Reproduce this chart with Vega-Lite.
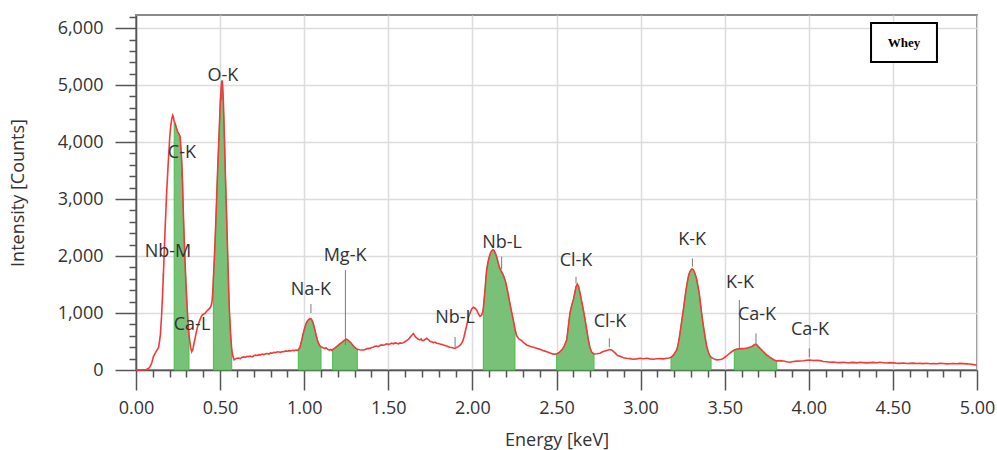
{
  "$schema": "https://vega.github.io/schema/vega-lite/v6.json",
  "width": 841,
  "height": 355,
  "autosize": "none",
  "padding": {"left": 136, "top": 15, "right": 20, "bottom": 80},
  "background": "white",
  "config": {
    "font": "Open Sans",
    "view": {"stroke": "#8a8a8a", "strokeWidth": 2}
  },
  "datasets": {
    "spectrum": [
      {"E":0.000,"I":0},{"E":0.030,"I":0},{"E":0.060,"I":5},{"E":0.080,"I":40},{"E":0.093,"I":117},{"E":0.103,"I":230},{"E":0.115,"I":300},{"E":0.125,"I":350},{"E":0.135,"I":400},{"E":0.145,"I":620},{"E":0.153,"I":1000},{"E":0.162,"I":1600},{"E":0.172,"I":2400},{"E":0.182,"I":3100},{"E":0.192,"I":3650},{"E":0.200,"I":4050},{"E":0.206,"I":4270},{"E":0.212,"I":4400},{"E":0.218,"I":4470},{"E":0.222,"I":4440},
      {"E":0.227,"I":4360,"pk":"C-K"},{"E":0.232,"I":4330,"pk":"C-K"},{"E":0.240,"I":4250,"pk":"C-K"},{"E":0.248,"I":4180,"pk":"C-K"},{"E":0.256,"I":4140,"pk":"C-K"},{"E":0.262,"I":4100,"pk":"C-K"},{"E":0.268,"I":3850,"pk":"C-K"},{"E":0.272,"I":3650,"pk":"C-K"},{"E":0.277,"I":3250,"pk":"C-K"},{"E":0.281,"I":2800,"pk":"C-K"},{"E":0.286,"I":2350,"pk":"C-K"},{"E":0.291,"I":1930,"pk":"C-K"},{"E":0.298,"I":1450,"pk":"C-K"},{"E":0.305,"I":1050,"pk":"C-K"},{"E":0.310,"I":800,"pk":"C-K"},{"E":0.315,"I":620,"pk":"C-K"},
      {"E":0.320,"I":500},{"E":0.326,"I":380},{"E":0.331,"I":320},{"E":0.338,"I":360},{"E":0.345,"I":470},{"E":0.353,"I":580},{"E":0.361,"I":700},{"E":0.370,"I":800},{"E":0.380,"I":880},{"E":0.390,"I":950},{"E":0.400,"I":980},{"E":0.410,"I":990},{"E":0.420,"I":1030},{"E":0.430,"I":1060},{"E":0.440,"I":1090},{"E":0.446,"I":1120},{"E":0.452,"I":1200},{"E":0.456,"I":1350},
      {"E":0.460,"I":1600,"pk":"O-K"},{"E":0.465,"I":1900,"pk":"O-K"},{"E":0.470,"I":2250,"pk":"O-K"},{"E":0.477,"I":2800,"pk":"O-K"},{"E":0.484,"I":3400,"pk":"O-K"},{"E":0.490,"I":3850,"pk":"O-K"},{"E":0.496,"I":4300,"pk":"O-K"},{"E":0.502,"I":4750,"pk":"O-K"},{"E":0.509,"I":5050,"pk":"O-K"},{"E":0.513,"I":5080,"pk":"O-K"},{"E":0.519,"I":4750,"pk":"O-K"},{"E":0.524,"I":4250,"pk":"O-K"},{"E":0.529,"I":3700,"pk":"O-K"},{"E":0.536,"I":2950,"pk":"O-K"},{"E":0.543,"I":2250,"pk":"O-K"},{"E":0.549,"I":1600,"pk":"O-K"},{"E":0.555,"I":1050,"pk":"O-K"},{"E":0.562,"I":650,"pk":"O-K"},{"E":0.569,"I":360,"pk":"O-K"},
      {"E":0.576,"I":240},{"E":0.583,"I":180},{"E":0.592,"I":195},{"E":0.600,"I":205},{"E":0.610,"I":210},{"E":0.620,"I":200},{"E":0.630,"I":225},{"E":0.640,"I":230},{"E":0.650,"I":220},{"E":0.660,"I":240},{"E":0.670,"I":235},{"E":0.680,"I":245},{"E":0.690,"I":230},{"E":0.700,"I":250},{"E":0.710,"I":260},{"E":0.720,"I":255},{"E":0.730,"I":270},{"E":0.740,"I":265},{"E":0.750,"I":280},{"E":0.760,"I":270},{"E":0.770,"I":285},{"E":0.780,"I":290},{"E":0.790,"I":280},{"E":0.800,"I":300},{"E":0.810,"I":295},{"E":0.820,"I":310},{"E":0.830,"I":305},{"E":0.840,"I":320},{"E":0.850,"I":315},{"E":0.860,"I":310},{"E":0.870,"I":325},{"E":0.880,"I":320},{"E":0.890,"I":335},{"E":0.900,"I":330},{"E":0.910,"I":340},{"E":0.920,"I":335},{"E":0.930,"I":345},{"E":0.940,"I":340},{"E":0.950,"I":350},{"E":0.958,"I":345},
      {"E":0.965,"I":355,"pk":"Na-K"},{"E":0.975,"I":400,"pk":"Na-K"},{"E":0.985,"I":520,"pk":"Na-K"},{"E":0.995,"I":650,"pk":"Na-K"},{"E":1.005,"I":760,"pk":"Na-K"},{"E":1.012,"I":820,"pk":"Na-K"},{"E":1.018,"I":855,"pk":"Na-K"},{"E":1.026,"I":885,"pk":"Na-K"},{"E":1.034,"I":900,"pk":"Na-K"},{"E":1.042,"I":895,"pk":"Na-K"},{"E":1.050,"I":850,"pk":"Na-K"},{"E":1.057,"I":780,"pk":"Na-K"},{"E":1.064,"I":700,"pk":"Na-K"},{"E":1.071,"I":610,"pk":"Na-K"},{"E":1.078,"I":530,"pk":"Na-K"},{"E":1.085,"I":470,"pk":"Na-K"},{"E":1.092,"I":430,"pk":"Na-K"},{"E":1.100,"I":405,"pk":"Na-K"},
      {"E":1.110,"I":395},{"E":1.118,"I":380},{"E":1.124,"I":375},{"E":1.130,"I":390},{"E":1.137,"I":370},{"E":1.144,"I":355},{"E":1.150,"I":350},{"E":1.158,"I":360},{"E":1.165,"I":345},
      {"E":1.169,"I":360,"pk":"Mg-K"},{"E":1.180,"I":380,"pk":"Mg-K"},{"E":1.193,"I":410,"pk":"Mg-K"},{"E":1.205,"I":440,"pk":"Mg-K"},{"E":1.215,"I":465,"pk":"Mg-K"},{"E":1.223,"I":480,"pk":"Mg-K"},{"E":1.232,"I":505,"pk":"Mg-K"},{"E":1.241,"I":525,"pk":"Mg-K"},{"E":1.249,"I":540,"pk":"Mg-K"},{"E":1.257,"I":530,"pk":"Mg-K"},{"E":1.265,"I":510,"pk":"Mg-K"},{"E":1.272,"I":495,"pk":"Mg-K"},{"E":1.280,"I":470,"pk":"Mg-K"},{"E":1.288,"I":440,"pk":"Mg-K"},{"E":1.296,"I":410,"pk":"Mg-K"},{"E":1.306,"I":385,"pk":"Mg-K"},{"E":1.316,"I":365,"pk":"Mg-K"},
      {"E":1.330,"I":355},{"E":1.340,"I":350},{"E":1.351,"I":352},{"E":1.362,"I":360},{"E":1.375,"I":375},{"E":1.391,"I":380},{"E":1.400,"I":395},{"E":1.410,"I":400},{"E":1.420,"I":415},{"E":1.431,"I":420},{"E":1.440,"I":410},{"E":1.450,"I":430},{"E":1.460,"I":440},{"E":1.470,"I":435},{"E":1.480,"I":445},{"E":1.490,"I":460},{"E":1.500,"I":450},{"E":1.510,"I":455},{"E":1.520,"I":470},{"E":1.530,"I":460},{"E":1.540,"I":475},{"E":1.550,"I":468},{"E":1.560,"I":460},{"E":1.570,"I":475},{"E":1.580,"I":470},{"E":1.590,"I":480},{"E":1.600,"I":500},{"E":1.610,"I":515},{"E":1.619,"I":535},{"E":1.630,"I":575},{"E":1.641,"I":615},{"E":1.649,"I":640},{"E":1.657,"I":600},{"E":1.665,"I":570},{"E":1.672,"I":555},{"E":1.679,"I":540},{"E":1.688,"I":528},{"E":1.695,"I":545},{"E":1.700,"I":520},{"E":1.708,"I":515},{"E":1.716,"I":530},{"E":1.728,"I":556},{"E":1.738,"I":535},{"E":1.748,"I":505},{"E":1.758,"I":495},{"E":1.768,"I":480},{"E":1.778,"I":490},{"E":1.788,"I":470},{"E":1.798,"I":465},{"E":1.807,"I":456},{"E":1.817,"I":450},{"E":1.827,"I":440},{"E":1.837,"I":430},{"E":1.847,"I":420},{"E":1.857,"I":410},{"E":1.867,"I":400},{"E":1.877,"I":395},{"E":1.887,"I":385},{"E":1.896,"I":380},{"E":1.905,"I":395},{"E":1.916,"I":410},{"E":1.926,"I":430},{"E":1.934,"I":460},{"E":1.942,"I":500},{"E":1.950,"I":580},{"E":1.958,"I":680},{"E":1.966,"I":780},{"E":1.976,"I":920},{"E":1.986,"I":1000},{"E":1.996,"I":1070},{"E":2.006,"I":1100},{"E":2.016,"I":1085},{"E":2.026,"I":1050},{"E":2.035,"I":990},{"E":2.045,"I":940},{"E":2.055,"I":960},{"E":2.061,"I":1020},
      {"E":2.065,"I":1080,"pk":"Nb-L"},{"E":2.070,"I":1250,"pk":"Nb-L"},{"E":2.075,"I":1400,"pk":"Nb-L"},{"E":2.080,"I":1600,"pk":"Nb-L"},{"E":2.085,"I":1760,"pk":"Nb-L"},{"E":2.092,"I":1880,"pk":"Nb-L"},{"E":2.098,"I":1960,"pk":"Nb-L"},{"E":2.106,"I":2040,"pk":"Nb-L"},{"E":2.114,"I":2090,"pk":"Nb-L"},{"E":2.121,"I":2110,"pk":"Nb-L"},{"E":2.128,"I":2100,"pk":"Nb-L"},{"E":2.136,"I":2050,"pk":"Nb-L"},{"E":2.144,"I":1990,"pk":"Nb-L"},{"E":2.152,"I":1890,"pk":"Nb-L"},{"E":2.160,"I":1810,"pk":"Nb-L"},{"E":2.167,"I":1760,"pk":"Nb-L"},{"E":2.174,"I":1720,"pk":"Nb-L"},{"E":2.184,"I":1660,"pk":"Nb-L"},{"E":2.194,"I":1580,"pk":"Nb-L"},{"E":2.201,"I":1500,"pk":"Nb-L"},{"E":2.208,"I":1400,"pk":"Nb-L"},{"E":2.215,"I":1290,"pk":"Nb-L"},{"E":2.223,"I":1170,"pk":"Nb-L"},{"E":2.233,"I":1020,"pk":"Nb-L"},{"E":2.243,"I":880,"pk":"Nb-L"},{"E":2.253,"I":720,"pk":"Nb-L"},
      {"E":2.263,"I":600},{"E":2.278,"I":540},{"E":2.293,"I":515},{"E":2.308,"I":470},{"E":2.323,"I":440},{"E":2.342,"I":415},{"E":2.362,"I":400},{"E":2.382,"I":380},{"E":2.402,"I":362},{"E":2.422,"I":340},{"E":2.442,"I":322},{"E":2.462,"I":300},{"E":2.481,"I":278},
      {"E":2.501,"I":282,"pk":"Cl-K"},{"E":2.516,"I":310,"pk":"Cl-K"},{"E":2.531,"I":350,"pk":"Cl-K"},{"E":2.546,"I":420,"pk":"Cl-K"},{"E":2.561,"I":530,"pk":"Cl-K"},{"E":2.571,"I":780,"pk":"Cl-K"},{"E":2.580,"I":1000,"pk":"Cl-K"},{"E":2.590,"I":1130,"pk":"Cl-K"},{"E":2.600,"I":1230,"pk":"Cl-K"},{"E":2.608,"I":1340,"pk":"Cl-K"},{"E":2.616,"I":1460,"pk":"Cl-K"},{"E":2.624,"I":1510,"pk":"Cl-K"},{"E":2.631,"I":1470,"pk":"Cl-K"},{"E":2.640,"I":1350,"pk":"Cl-K"},{"E":2.650,"I":1200,"pk":"Cl-K"},{"E":2.660,"I":1050,"pk":"Cl-K"},{"E":2.670,"I":880,"pk":"Cl-K"},{"E":2.680,"I":700,"pk":"Cl-K"},{"E":2.690,"I":520,"pk":"Cl-K"},{"E":2.699,"I":390,"pk":"Cl-K"},{"E":2.710,"I":310,"pk":"Cl-K"},{"E":2.723,"I":282,"pk":"Cl-K"},
      {"E":2.740,"I":285},{"E":2.759,"I":295},{"E":2.774,"I":320},{"E":2.789,"I":335},{"E":2.803,"I":345},{"E":2.813,"I":360},{"E":2.823,"I":355},{"E":2.833,"I":340},{"E":2.848,"I":300},{"E":2.863,"I":255},{"E":2.878,"I":240},{"E":2.897,"I":215},{"E":2.917,"I":205},{"E":2.937,"I":200},{"E":2.957,"I":190},{"E":2.977,"I":195},{"E":2.997,"I":205},{"E":3.017,"I":198},{"E":3.036,"I":205},{"E":3.056,"I":195},{"E":3.076,"I":190},{"E":3.096,"I":198},{"E":3.116,"I":200},{"E":3.136,"I":195},{"E":3.155,"I":205},{"E":3.170,"I":210},
      {"E":3.181,"I":222,"pk":"K-K"},{"E":3.195,"I":260,"pk":"K-K"},{"E":3.215,"I":350,"pk":"K-K"},{"E":3.225,"I":480,"pk":"K-K"},{"E":3.234,"I":640,"pk":"K-K"},{"E":3.244,"I":850,"pk":"K-K"},{"E":3.254,"I":1050,"pk":"K-K"},{"E":3.262,"I":1230,"pk":"K-K"},{"E":3.270,"I":1400,"pk":"K-K"},{"E":3.277,"I":1530,"pk":"K-K"},{"E":3.284,"I":1640,"pk":"K-K"},{"E":3.291,"I":1710,"pk":"K-K"},{"E":3.298,"I":1750,"pk":"K-K"},{"E":3.306,"I":1775,"pk":"K-K"},{"E":3.313,"I":1760,"pk":"K-K"},{"E":3.320,"I":1720,"pk":"K-K"},{"E":3.327,"I":1660,"pk":"K-K"},{"E":3.333,"I":1600,"pk":"K-K"},{"E":3.341,"I":1470,"pk":"K-K"},{"E":3.349,"I":1340,"pk":"K-K"},{"E":3.356,"I":1160,"pk":"K-K"},{"E":3.363,"I":990,"pk":"K-K"},{"E":3.373,"I":780,"pk":"K-K"},{"E":3.383,"I":585,"pk":"K-K"},{"E":3.392,"I":430,"pk":"K-K"},{"E":3.402,"I":320,"pk":"K-K"},{"E":3.410,"I":260,"pk":"K-K"},{"E":3.419,"I":225,"pk":"K-K"},
      {"E":3.435,"I":195},{"E":3.452,"I":178},{"E":3.467,"I":180},{"E":3.482,"I":187},{"E":3.497,"I":215},{"E":3.511,"I":246},{"E":3.526,"I":285},{"E":3.541,"I":320},
      {"E":3.557,"I":350,"pk":"Ca-K"},{"E":3.571,"I":365,"pk":"Ca-K"},{"E":3.586,"I":372,"pk":"Ca-K"},{"E":3.601,"I":375,"pk":"Ca-K"},{"E":3.615,"I":378,"pk":"Ca-K"},{"E":3.630,"I":382,"pk":"Ca-K"},{"E":3.645,"I":395,"pk":"Ca-K"},{"E":3.660,"I":410,"pk":"Ca-K"},{"E":3.670,"I":430,"pk":"Ca-K"},{"E":3.680,"I":452,"pk":"Ca-K"},{"E":3.690,"I":445,"pk":"Ca-K"},{"E":3.700,"I":410,"pk":"Ca-K"},{"E":3.710,"I":380,"pk":"Ca-K"},{"E":3.720,"I":350,"pk":"Ca-K"},{"E":3.735,"I":305,"pk":"Ca-K"},{"E":3.750,"I":263,"pk":"Ca-K"},{"E":3.765,"I":230,"pk":"Ca-K"},{"E":3.779,"I":205,"pk":"Ca-K"},{"E":3.794,"I":175,"pk":"Ca-K"},{"E":3.809,"I":160,"pk":"Ca-K"},
      {"E":3.829,"I":164},{"E":3.849,"I":158},{"E":3.869,"I":145},{"E":3.888,"I":135},{"E":3.908,"I":150},{"E":3.928,"I":155},{"E":3.948,"I":158},{"E":3.968,"I":162},{"E":3.988,"I":170},{"E":4.007,"I":175},{"E":4.027,"I":168},{"E":4.047,"I":172},{"E":4.067,"I":164},{"E":4.087,"I":150},{"E":4.106,"I":145},{"E":4.126,"I":135},{"E":4.146,"I":140},{"E":4.166,"I":132},{"E":4.186,"I":129},{"E":4.206,"I":135},{"E":4.226,"I":128},{"E":4.245,"I":129},{"E":4.265,"I":134},{"E":4.285,"I":126},{"E":4.304,"I":135},{"E":4.324,"I":130},{"E":4.344,"I":125},{"E":4.364,"I":129},{"E":4.384,"I":133},{"E":4.404,"I":127},{"E":4.423,"I":135},{"E":4.443,"I":128},{"E":4.463,"I":122},{"E":4.483,"I":129},{"E":4.503,"I":125},{"E":4.522,"I":118},{"E":4.542,"I":117},{"E":4.562,"I":122},{"E":4.582,"I":114},{"E":4.602,"I":117},{"E":4.622,"I":120},{"E":4.641,"I":113},{"E":4.661,"I":117},{"E":4.681,"I":112},{"E":4.701,"I":118},{"E":4.721,"I":111},{"E":4.741,"I":115},{"E":4.760,"I":110},{"E":4.780,"I":117},{"E":4.800,"I":113},{"E":4.820,"I":108},{"E":4.839,"I":111},{"E":4.859,"I":114},{"E":4.879,"I":109},{"E":4.899,"I":117},{"E":4.919,"I":112},{"E":4.938,"I":108},{"E":4.958,"I":105},{"E":4.978,"I":95},{"E":4.998,"I":82}
    ],
    "labels": [
      {"lab":"O-K","E":0.509,"tx":0.517,"ty":5158,"l1":4860,"l2":4737},
      {"lab":"C-K","E":0.272,"tx":0.273,"ty":3807,"l1":3509,"l2":3368},
      {"lab":"Nb-M","E":0.162,"tx":0.190,"ty":2070,"l1":1702,"l2":1579},
      {"lab":"Ca-L","E":0.333,"tx":0.333,"ty":789},
      {"lab":"Na-K","E":1.040,"tx":1.040,"ty":1404,"l1":1158,"l2":1000},
      {"lab":"Mg-K","E":1.245,"tx":1.243,"ty":2000,"l1":1754,"l2":439},
      {"lab":"Nb-L","E":1.897,"tx":1.897,"ty":912,"l1":579,"l2":404},
      {"lab":"Nb-L","E":2.174,"tx":2.176,"ty":2228,"l1":1990,"l2":1770},
      {"lab":"Cl-K","E":2.616,"tx":2.616,"ty":1912,"l1":1637,"l2":1520},
      {"lab":"Cl-K","E":2.814,"tx":2.818,"ty":842,"l1":556,"l2":398},
      {"lab":"K-K","E":3.308,"tx":3.306,"ty":2281,"l1":1959,"l2":1813},
      {"lab":"K-K","E":3.587,"tx":3.591,"ty":1526,"l1":1228,"l2":380},
      {"lab":"Ca-K","E":3.686,"tx":3.692,"ty":965,"l1":643,"l2":456},
      {"lab":"Ca-K","E":4.003,"tx":4.007,"ty":702,"l1":380,"l2":222}
    ]
  },
  "layer": [
    {
      "data": {"name": "spectrum"},
      "transform": [{"filter": "isValid(datum.pk)"}],
      "mark": {"type": "area", "fill": "#79c179", "stroke": "#46c046", "strokeWidth": 1, "fillOpacity": 1},
      "encoding": {
        "x": {
          "field": "E", "type": "quantitative",
          "scale": {"domain": [0, 5], "nice": false, "zero": false},
          "axis": {
            "title": "Energy [keV]",
            "values": [0,0.1,0.2,0.3,0.4,0.5,0.6,0.7,0.8,0.9,1,1.1,1.2,1.3,1.4,1.5,1.6,1.7,1.8,1.9,2,2.1,2.2,2.3,2.4,2.5,2.6,2.7,2.8,2.9,3,3.1,3.2,3.3,3.4,3.5,3.6,3.7,3.8,3.9,4,4.1,4.2,4.3,4.4,4.5,4.6,4.7,4.8,4.9,5],
            "tickCount": 500,
            "labelExpr": "abs(datum.value*2-round(datum.value*2))<0.001 ? format(datum.value,'.2f') : ''",
            "tickSize": {"condition": {"test": "abs(datum.value*2-round(datum.value*2))<0.001", "value": 20}, "value": 7},
            "gridOpacity": {"condition": {"test": "abs(datum.value*2-round(datum.value*2))<0.001", "value": 1}, "value": 0},
            "gridColor": "#dcdcdc", "gridWidth": 1.5,
            "domainColor": "#555", "domainWidth": 1.5, "tickColor": "#555", "tickWidth": 1.5,
            "labelOverlap": false, "labelFlush": false,
            "labelFontSize": 18, "labelColor": "#333", "labelPadding": 9,
            "titleFontSize": 18, "titleColor": "#333", "titleFontWeight": "normal", "titlePadding": 14
          }
        },
        "y": {
          "field": "I", "type": "quantitative", "stack": null,
          "scale": {"domain": [0, 6230], "nice": false, "zero": true},
          "axis": {
            "title": "Intensity [Counts]",
            "values": [0,200,400,600,800,1000,1200,1400,1600,1800,2000,2200,2400,2600,2800,3000,3200,3400,3600,3800,4000,4200,4400,4600,4800,5000,5200,5400,5600,5800,6000,6200],
            "tickCount": 500,
            "labelExpr": "datum.value % 1000 === 0 ? format(datum.value, ',') : ''",
            "tickSize": {"condition": {"test": "datum.value % 1000 === 0", "value": 21}, "value": 7},
            "gridOpacity": {"condition": {"test": "datum.value % 1000 === 0", "value": 1}, "value": 0},
            "gridColor": "#dcdcdc", "gridWidth": 1.5,
            "domainColor": "#555", "domainWidth": 1.5, "tickColor": "#555", "tickWidth": 1.5,
            "labelOverlap": false, "labelFlush": false,
            "labelFontSize": 18, "labelColor": "#333", "labelPadding": 12,
            "titleFontSize": 18, "titleColor": "#333", "titleFontWeight": "normal", "titlePadding": 30
          }
        },
        "detail": {"field": "pk", "type": "nominal"}
      }
    },
    {
      "data": {"name": "labels"},
      "transform": [{"filter": "isValid(datum.l1)"}],
      "mark": {"type": "rule", "color": "#7a7a7a", "strokeWidth": 1},
      "encoding": {
        "x": {"field": "E", "type": "quantitative"},
        "y": {"field": "l1", "type": "quantitative"},
        "y2": {"field": "l2"}
      }
    },
    {
      "data": {"name": "spectrum"},
      "mark": {"type": "line", "color": "#f23a3a", "strokeWidth": 1.6},
      "encoding": {
        "x": {"field": "E", "type": "quantitative"},
        "y": {"field": "I", "type": "quantitative"}
      }
    },
    {
      "data": {"name": "labels"},
      "mark": {"type": "text", "font": "Open Sans", "fontSize": 18, "color": "#333", "align": "center", "baseline": "middle"},
      "encoding": {
        "x": {"field": "tx", "type": "quantitative"},
        "y": {"field": "ty", "type": "quantitative"},
        "text": {"field": "lab"}
      }
    },
    {
      "data": {"values": [{}]},
      "mark": {"type": "rect", "fill": "white", "stroke": "black", "strokeWidth": 2},
      "encoding": {
        "x": {"datum": 4.37, "type": "quantitative"},
        "x2": {"datum": 4.762},
        "y": {"datum": 6088, "type": "quantitative"},
        "y2": {"datum": 5404}
      }
    },
    {
      "data": {"values": [{"t": "Whey"}]},
      "mark": {"type": "text", "font": "Liberation Serif", "fontWeight": "bold", "fontSize": 13, "color": "black", "align": "center", "baseline": "middle"},
      "encoding": {
        "x": {"datum": 4.566, "type": "quantitative"},
        "y": {"datum": 5746, "type": "quantitative"},
        "text": {"field": "t"}
      }
    }
  ]
}
